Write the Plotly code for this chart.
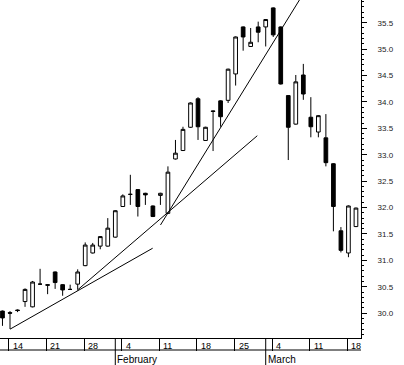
import pandas as pd
import plotly.graph_objects as go

# trading days (Jan 11 2002 .. Mar 19 2002)
dates = pd.bdate_range("2002-01-11", periods=48)

open_ = [30.04, 30.01, 30.06, 30.22, 30.12, 30.55, 30.54, 30.78, 30.54, 30.45,
         30.55, 30.90, 31.14, 31.27, 31.27, 31.44, 32.02, 32.25, 32.34, 32.27,
         32.03, 32.23, 31.89, 32.92, 33.08, 33.52, 34.06, 33.27, 33.83, 34.02,
         34.03, 34.53, 35.42, 35.05, 35.42, 35.42, 35.78, 35.42, 34.12, 33.58,
         34.51, 33.71, 33.43, 33.32, 32.83, 31.56, 31.14, 31.64]
high = [30.05, 30.04, 30.07, 30.47, 30.61, 30.84, 30.55, 30.79, 30.55, 30.54,
        30.83, 31.34, 31.33, 31.46, 31.80, 31.95, 32.25, 32.62, 32.35, 32.28,
        32.04, 32.28, 32.78, 33.28, 33.53, 33.99, 34.09, 33.53, 33.84, 34.03,
        34.63, 35.24, 35.43, 35.40, 35.52, 35.57, 35.79, 35.43, 34.13, 34.51,
        34.72, 34.09, 33.75, 33.77, 32.84, 31.63, 32.04, 32.00]
low = [29.76, 29.70, 30.02, 30.12, 30.11, 30.54, 30.36, 30.46, 30.33, 30.44,
       30.45, 30.89, 31.13, 31.21, 31.26, 31.43, 32.01, 32.05, 31.83, 32.05,
       31.82, 32.05, 31.88, 32.91, 33.07, 33.51, 33.28, 33.26, 33.07, 33.53,
       33.98, 34.31, 34.97, 35.04, 35.13, 35.05, 35.23, 34.33, 32.90, 33.57,
       34.04, 33.33, 33.33, 32.78, 31.55, 31.15, 31.06, 31.63]
close = [29.91, 30.00, 30.05, 30.45, 30.59, 30.55, 30.53, 30.58, 30.44, 30.45,
         30.78, 31.29, 31.29, 31.45, 31.61, 31.94, 32.22, 32.25, 32.02, 32.24,
         31.83, 32.27, 32.67, 33.03, 33.48, 33.98, 33.53, 33.52, 33.82, 33.72,
         34.62, 35.23, 35.23, 35.13, 35.32, 35.56, 35.27, 34.34, 33.52, 34.38,
         34.15, 33.53, 33.74, 32.85, 32.02, 31.19, 32.03, 31.99]

# trend lines (bar index, price)
trend1_x = [1.0, 19.97]
trend1_y = [29.697, 31.23]
trend2_x = [9.9, 33.88]
trend2_y = [30.43, 33.36]
trend3_x = [21.01, 41.0]
trend3_y = [31.67, 36.28]

y_ticks = [30.0, 30.5, 31.0, 31.5, 32.0, 32.5, 33.0, 33.5, 34.0, 34.5, 35.0, 35.5]
month_names = {2: "February", 3: "March"}

xs = list(range(len(dates)))
week_idx = [i for i, d in enumerate(dates) if d.weekday() == 0]
week_labels = [str(dates[i].day) for i in week_idx]
month_idx = [i for i in range(1, len(dates)) if dates[i].month != dates[i - 1].month]

fig = go.Figure()
fig.add_trace(go.Candlestick(
    x=xs, open=open_, high=high, low=low, close=close,
    increasing=dict(line=dict(color="black", width=1), fillcolor="white"),
    decreasing=dict(line=dict(color="black", width=1), fillcolor="black"),
    hoverinfo="skip", showlegend=False,
))
for tx, ty in [(trend1_x, trend1_y), (trend2_x, trend2_y), (trend3_x, trend3_y)]:
    fig.add_trace(go.Scatter(x=tx, y=ty, mode="lines",
                             line=dict(color="black", width=1),
                             hoverinfo="skip", showlegend=False))

tick_pos = [i - 0.15 for i in week_idx]
H = 338.0
shapes = [dict(type="line", xref="paper", yref="paper", x0=0, x1=1,
               y0=-12 / H, y1=-12 / H, line=dict(color="black", width=1))]
annotations = []
for p, lab in zip(tick_pos, week_labels):
    annotations.append(dict(x=p, y=0, xref="x", yref="paper", text=lab,
                            showarrow=False, xanchor="left", yanchor="top",
                            xshift=2, yshift=-1,
                            font=dict(family="Liberation Sans", size=9, color="black")))
for m in month_idx:
    shapes.append(dict(type="line", xref="x", yref="paper", x0=m, x1=m,
                       y0=0, y1=-27 / H, line=dict(color="black", width=1)))
    annotations.append(dict(x=m, y=-12 / H, xref="x", yref="paper",
                            text=month_names[dates[m].month], showarrow=False,
                            xanchor="left", yanchor="top", xshift=0, yshift=-2,
                            font=dict(family="Liberation Sans", size=10, color="black")))

fig.update_layout(
    width=404, height=365,
    margin=dict(l=0, r=43, t=0, b=27),
    paper_bgcolor="white", plot_bgcolor="white",
    boxgap=0.3,
    shapes=shapes, annotations=annotations,
    xaxis=dict(range=[-0.33, 47.67], rangeslider=dict(visible=False),
               showgrid=False, zeroline=False, showline=True, linecolor="black",
               linewidth=1, ticks="outside", ticklen=12, tickcolor="black",
               tickvals=tick_pos, showticklabels=False),
    yaxis=dict(side="right", range=[29.53, 35.93], showgrid=False, zeroline=False,
               showline=True, linecolor="black", linewidth=1,
               ticks="outside", ticklen=5, tickcolor="black",
               tickvals=y_ticks, ticktext=[f"{v:.1f}" for v in y_ticks],
               ticklabelstandoff=9,
               minor=dict(dtick=0.1, tick0=30.0, ticks="outside", ticklen=2,
                          tickcolor="black", showgrid=False),
               tickfont=dict(family="Liberation Sans", size=8, color="#222")),
)

fig.write_html("out.html", config={"displayModeBar": False},
               post_script="document.body.style.margin='0px';document.body.style.overflow='hidden';")
